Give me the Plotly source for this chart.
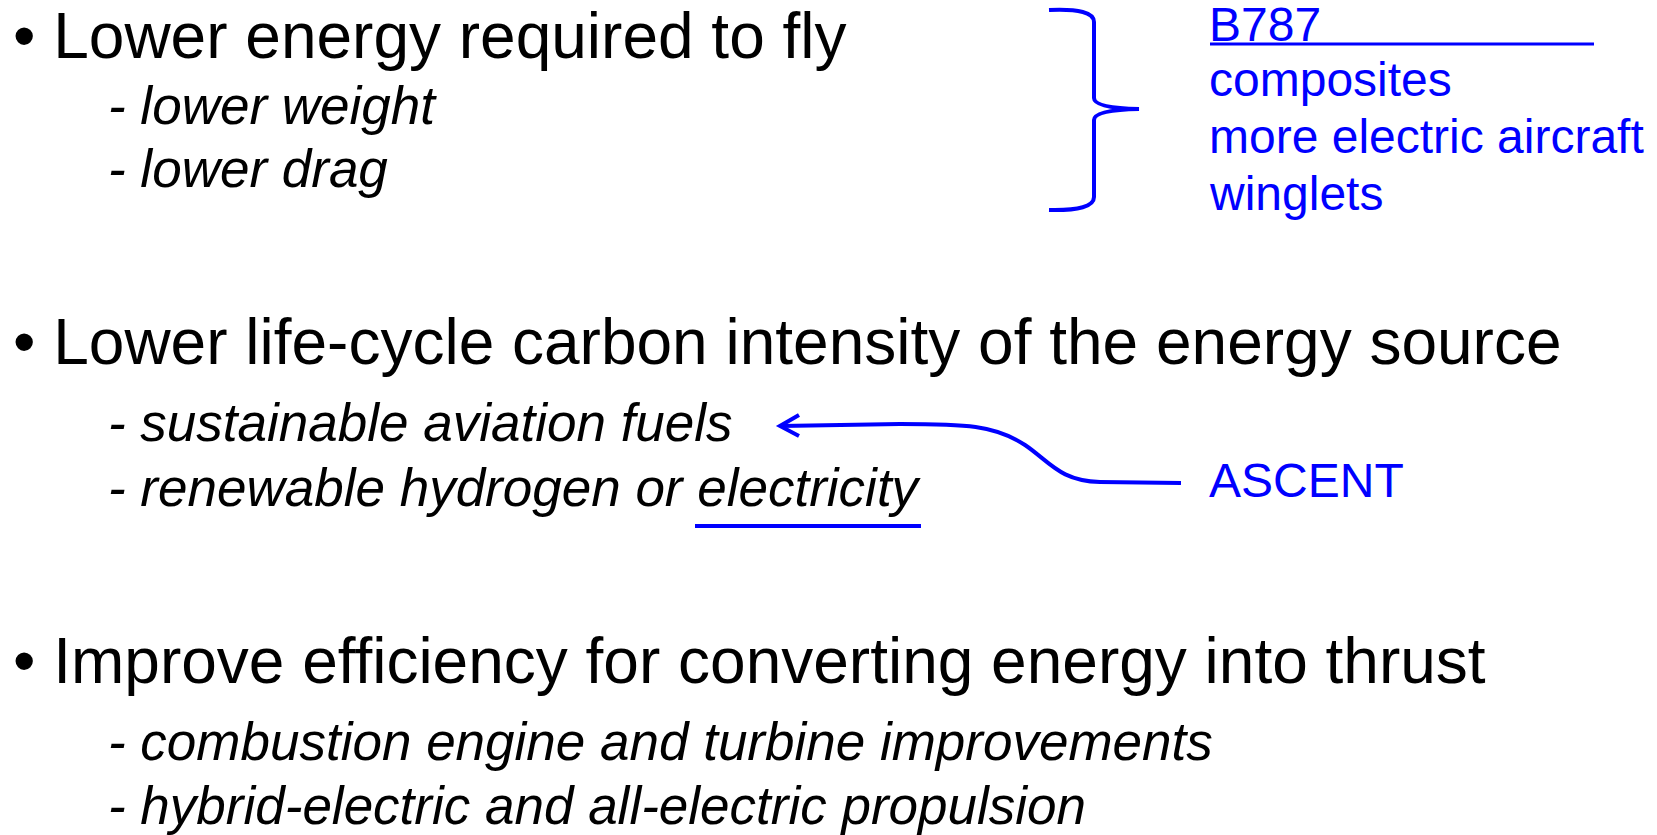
import plotly.graph_objects as go

W, H = 1657, 835
FONT = "Liberation Sans, Arial, sans-serif"
BLUE = "rgb(0,0,255)"

# ---- content ----
main_points = [
    "Lower energy required to fly",
    "Lower life-cycle carbon intensity of the energy source",
    "Improve efficiency for converting energy into thrust",
]
sub_points = [
    ["lower weight", "lower drag"],
    ["sustainable aviation fuels", "renewable hydrogen or electricity"],
    ["combustion engine and turbine improvements", "hybrid-electric and all-electric propulsion"],
]
side_notes = ["B787", "composites", "more electric aircraft", "winglets"]
arrow_label = "ASCENT"

# ---- layout (pixel positions in the window) ----
main_y = [36, 342, 661]
sub_y = [[105, 168], [422, 487], [741, 805]]
side_y = [24, 79, 136, 193]

fig = go.Figure()
ann = []
for txt, y in zip(main_points, main_y):
    ann.append(dict(x=11, y=y, text="\u2022 " + txt, xanchor="left", yanchor="middle",
                    font=dict(family=FONT, size=64, color="black")))
for subs, ys in zip(sub_points, sub_y):
    for txt, y in zip(subs, ys):
        ann.append(dict(x=106, y=y, text="<i>- " + txt + "</i>", xanchor="left", yanchor="middle",
                        font=dict(family=FONT, size=53, color="black")))
for txt, y in zip(side_notes, side_y):
    ann.append(dict(x=1207, y=y, text=txt, xanchor="left", yanchor="middle",
                    font=dict(family=FONT, size=48, color=BLUE)))
ann.append(dict(x=1207, y=480, text=arrow_label, xanchor="left", yanchor="middle",
                font=dict(family=FONT, size=48, color=BLUE)))
for a in ann:
    a.update(xref="x", yref="y", showarrow=False)

shapes = [
    # brace
    dict(type="path",
         path="M 1049,10 Q 1094,8 1094,22 L 1094,98 Q 1094,108 1139,109 "
              "Q 1094,110 1094,120 L 1094,197 Q 1094,211 1049,210",
         line=dict(color=BLUE, width=4)),
    # B787 underline
    dict(type="line", x0=1210, x1=1594, y0=44, y1=44, line=dict(color=BLUE, width=3)),
    # electricity underline
    dict(type="line", x0=695, x1=921, y0=526, y1=526, line=dict(color=BLUE, width=4)),
    # curved arrow
    dict(type="path",
         path="M 1181,483 L 1100,482 C 1060,481 1050,462 1025,445 C 995,425 965,424 900,424 L 781,426",
         line=dict(color=BLUE, width=4)),
    dict(type="path", path="M 799,415 L 780,426 L 799,436",
         line=dict(color=BLUE, width=4)),
]

fig.update_layout(
    width=W, height=H, margin=dict(l=0, r=0, t=0, b=0),
    paper_bgcolor="white", plot_bgcolor="white",
    xaxis=dict(range=[0, W], visible=False, fixedrange=True),
    yaxis=dict(range=[H, 0], visible=False, fixedrange=True),
    annotations=ann, shapes=shapes, showlegend=False,
)
fig.write_html(
    "out.html",
    config={"displayModeBar": False},
    post_script="document.body.style.margin='0';document.body.style.overflow='hidden';",
)
